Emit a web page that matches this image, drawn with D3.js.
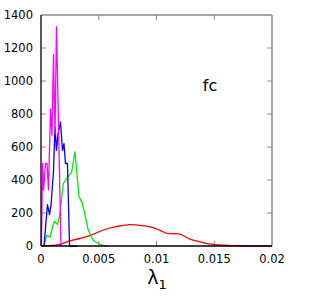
<!DOCTYPE html>
<html><head><meta charset="utf-8">
<script src="https://cdn.jsdelivr.net/npm/d3@7"></script>
<style>body{margin:0;background:#fff}svg{display:block}text{font-family:"DejaVu Sans",sans-serif}</style>
</head><body>
<script>
const xTicks = [0, 0.005, 0.01, 0.015, 0.02];
const xTickLabels = ["0", "0.005", "0.01", "0.015", "0.02"];
const yTicks = [0, 200, 400, 600, 800, 1000, 1200, 1400];

const magentaX = [0.00004,0.00013,0.00022,0.00039,0.00052,0.00065,0.00082,0.00095,0.00108,0.00121,0.00134,0.00173];
const magentaY = [0,500,340,500,500,340,830,670,1160,680,1330,0];

const blueX = [0.00026,0.00056,0.00074,0.00087,0.00108,0.00121,0.00134,0.00147,0.00169,0.00186,0.00199,0.00212,0.00229,0.00247,0.00312];
const blueY = [0,250,190,250,450,720,580,680,750,580,620,500,500,0,0];

const greenX = [0.00026,0.00049,0.00078,0.00115,0.00145,0.00165,0.00193,0.00236,0.00266,0.00294,0.00329,0.00358,0.0041,0.00433,0.00453,0.00485,0.0051,0.00545,0.0058];
const greenY = [0,65,55,150,130,200,380,420,450,570,300,260,95,60,35,20,10,2,0];

const redX = [0.0001,0.00165,0.0022,0.00424,0.0054,0.0065,0.0077,0.0089,0.0097,0.0103,0.0109,0.0119,0.0129,0.0138,0.0143,0.0155,0.0169,0.0181,0.02];
const redY = [0,10,24,63,97,117,130,122,112,95,77,73,42,25,16,6,2,0,0];

const annotation = "fc";

const W = 334, H = 300;
const m = {l:41, r:62, t:15, b:54};
const svg = d3.select("body").append("svg").attr("width", W).attr("height", H);
const x = d3.scaleLinear().domain([0, 0.02]).range([m.l, W - m.r]);
const y = d3.scaleLinear().domain([0, 1400]).range([H - m.b, m.t]);

// frame (top/right gray)
const gray = "#8a8a8a";
svg.append("line").attr("x1", x(0)).attr("x2", x(0.02)).attr("y1", y(1400)).attr("y2", y(1400)).attr("stroke", gray).attr("stroke-width", 1.5);
svg.append("line").attr("x1", x(0.02)).attr("x2", x(0.02)).attr("y1", y(0)).attr("y2", y(1400)).attr("stroke", gray).attr("stroke-width", 1.5);

// inward ticks
const tl = 5;
yTicks.slice(1, -1).forEach(v => {
  svg.append("line").attr("x1", x(0)).attr("x2", x(0) + tl).attr("y1", y(v)).attr("y2", y(v)).attr("stroke", gray);
  svg.append("line").attr("x1", x(0.02)).attr("x2", x(0.02) - tl).attr("y1", y(v)).attr("y2", y(v)).attr("stroke", gray);
});
xTicks.slice(1, -1).forEach(v => {
  svg.append("line").attr("x1", x(v)).attr("x2", x(v)).attr("y1", y(0)).attr("y2", y(0) - tl).attr("stroke", gray);
  svg.append("line").attr("x1", x(v)).attr("x2", x(v)).attr("y1", y(1400)).attr("y2", y(1400) + tl).attr("stroke", gray);
});

// series
const line = d3.line().x(d => x(d[0])).y(d => y(d[1]));
const series = [
  {xs: redX, ys: redY, c: "#ff0000", curve: d3.curveMonotoneX},
  {xs: greenX, ys: greenY, c: "#00ee00", curve: d3.curveLinear},
  {xs: blueX, ys: blueY, c: "#0000ff", curve: d3.curveLinear},
  {xs: magentaX, ys: magentaY, c: "#ff00ff", curve: d3.curveLinear}
];
series.forEach(s => {
  const pts = s.xs.map((v, i) => [v, s.ys[i]]);
  svg.append("path").attr("d", line.curve(s.curve)(pts)).attr("fill", "none")
    .attr("stroke", s.c).attr("stroke-width", 1.3).attr("stroke-linejoin", "round");
});

// left/bottom axes (black)
svg.append("line").attr("x1", x(0)).attr("x2", x(0)).attr("y1", y(0)).attr("y2", y(1400)).attr("stroke", "#000").attr("stroke-width", 1.3);
svg.append("line").attr("x1", x(0)).attr("x2", x(0.02)).attr("y1", y(0)).attr("y2", y(0)).attr("stroke", "#000").attr("stroke-width", 1.3);

// labels
yTicks.forEach(v => {
  svg.append("text").attr("x", x(0) - 8).attr("y", y(v)).attr("dy", "0.35em")
    .attr("text-anchor", "end").attr("font-size", 11.5).text(v);
});
xTicks.forEach((v, i) => {
  svg.append("text").attr("x", x(v)).attr("y", y(0) + 17).attr("text-anchor", "middle")
    .attr("font-size", 11.5).text(xTickLabels[i]);
});
const xl = svg.append("text").attr("x", 157).attr("y", 284).attr("text-anchor", "middle").attr("font-size", 19);
xl.append("tspan").text("λ");
xl.append("tspan").attr("font-size", 13).attr("dy", 5).text("1");

svg.append("text").attr("x", 210).attr("y", 91).attr("text-anchor", "middle").attr("font-size", 16).text(annotation);
</script>
</body></html>
